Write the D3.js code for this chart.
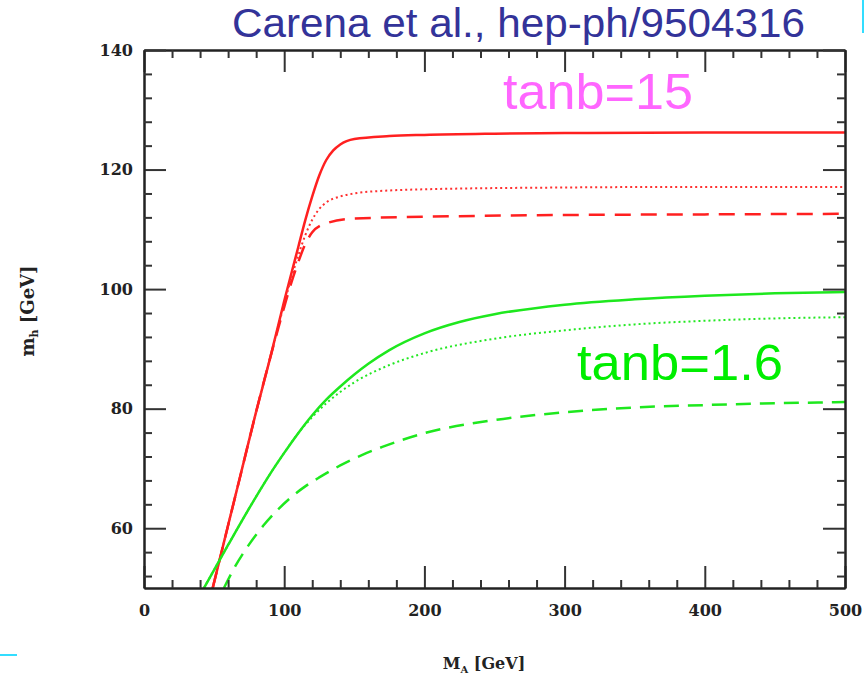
<!DOCTYPE html>
<html>
<head>
<meta charset="utf-8">
<script src="https://cdn.jsdelivr.net/npm/d3@7"></script>
<style>
  body { margin: 0; background: #fff; }
  svg { display: block; }
  .tick text { font-family: "DejaVu Serif", serif; font-weight: bold; font-size: 16px; fill: #222; }
  .tick line { stroke: #333; stroke-width: 2; }
  .domain { stroke: #222; stroke-width: 2; }
</style>
</head>
<body>
<svg width="865" height="679"></svg>
<script>
// M_A [GeV], m_h [GeV]
const red_solid = [[49,50],[60,60.5],[70,70],[80,79.5],[90,88.5],[100,98],[110,107],[115,111.5],[120,115.5],[125,119],[130,121.6],[135,123.2],[140,124.2],[150,125.1],[175,125.6],[200,125.8],[250,126],[300,126.1],[400,126.2],[500,126.2]];
const red_dotted = [[49,50],[60,60.5],[70,70],[80,79.5],[90,88.5],[100,97.5],[105,101.8],[110,105.6],[115,109],[120,111.6],[125,113.4],[130,114.5],[140,115.5],[150,116],[175,116.5],[200,116.7],[300,117],[400,117.1],[500,117.1]];
const red_dashed = [[49,50],[60,60.5],[70,70],[80,79.5],[90,88.5],[100,97],[105,101],[110,104.5],[115,107.5],[120,109.5],[130,111],[150,111.8],[200,112.1],[300,112.4],[400,112.5],[500,112.6]];

const green_solid = [[42.8,50],[60,57.2],[80,65.3],[90,69.1],[100,72.6],[110,75.9],[120,78.9],[130,81.5],[140,83.7],[150,85.7],[160,87.5],[175,89.8],[200,92.6],[225,94.5],[250,95.8],[300,97.4],[350,98.3],[400,98.9],[450,99.3],[500,99.5]];
const green_dotted = [[42.8,50],[60,57.2],[80,65.3],[90,69.1],[100,72.6],[110,75.9],[120,78.6],[130,80.9],[140,82.8],[150,84.4],[175,87.3],[200,89.3],[250,91.7],[300,93.1],[350,94.1],[400,94.7],[450,95.1],[500,95.3]];
const green_dashed = [[57,50],[65,53.6],[75,57.3],[85,60.4],[95,63],[105,65.2],[115,67],[125,68.5],[140,70.5],[155,72.2],[170,73.6],[200,75.9],[250,78.1],[300,79.4],[350,80.2],[400,80.6],[450,80.9],[500,81.1]];

const xMajor = [0, 100, 200, 300, 400, 500];
const xMinor = d3.range(20, 500, 20).filter(v => v % 100 !== 0);
const yMajor = [60, 80, 100, 120, 140];
const yMinor = d3.range(52, 140, 4).filter(v => v % 20 !== 0);

const svg = d3.select('svg');
const pLeft = 144, pRight = 845, pTop = 50, pBottom = 588;

const x = d3.scaleLinear().domain([0, 500]).range([pLeft, pRight]);
const y = d3.scaleLinear().domain([50, 140]).range([pBottom, pTop]);

// clip curves to the frame
svg.append('clipPath').attr('id', 'frame')
  .append('rect')
    .attr('x', pLeft).attr('y', pTop)
    .attr('width', pRight - pLeft).attr('height', pBottom - pTop);

const line = d3.line()
  .x(d => x(d[0]))
  .y(d => y(d[1]))
  .curve(d3.curveMonotoneX);

const curves = [
  {data: red_solid, color: '#ff2020', width: 2.5, dash: null},
  {data: red_dotted, color: '#ff3030', width: 2, dash: '2,3'},
  {data: red_dashed, color: '#ff2020', width: 2.5, dash: '16,10'},
  {data: green_solid, color: '#1ee81e', width: 2.5, dash: null},
  {data: green_dotted, color: '#22e822', width: 2, dash: '2,3'},
  {data: green_dashed, color: '#1ee81e', width: 2.5, dash: '15,9'}
];

const g = svg.append('g').attr('clip-path', 'url(#frame)');
g.selectAll('path').data(curves)
  .enter().append('path')
    .attr('fill', 'none')
    .attr('stroke', d => d.color)
    .attr('stroke-width', d => d.width)
    .attr('stroke-dasharray', d => d.dash)
    .attr('d', d => line(d.data));

// axes, ticks pointing inward
svg.append('g').attr('transform', `translate(0,${pBottom})`)
  .call(d3.axisBottom(x).tickValues(xMajor).tickSize(-22).tickSizeOuter(0).tickPadding(17));
svg.append('g').attr('transform', `translate(0,${pBottom})`)
  .call(d3.axisBottom(x).tickValues(xMinor).tickSize(-8).tickSizeOuter(0).tickFormat(''));
svg.append('g').attr('transform', `translate(0,${pTop})`)
  .call(d3.axisTop(x).tickValues(xMajor).tickSize(-22).tickSizeOuter(0).tickFormat(''));
svg.append('g').attr('transform', `translate(0,${pTop})`)
  .call(d3.axisTop(x).tickValues(xMinor).tickSize(-8).tickSizeOuter(0).tickFormat(''));

svg.append('g').attr('transform', `translate(${pLeft},0)`)
  .call(d3.axisLeft(y).tickValues(yMajor).tickSize(-22).tickSizeOuter(0).tickPadding(11));
svg.append('g').attr('transform', `translate(${pLeft},0)`)
  .call(d3.axisLeft(y).tickValues(yMinor).tickSize(-8).tickSizeOuter(0).tickFormat(''));
svg.append('g').attr('transform', `translate(${pRight},0)`)
  .call(d3.axisRight(y).tickValues(yMajor).tickSize(-22).tickSizeOuter(0).tickFormat(''));
svg.append('g').attr('transform', `translate(${pRight},0)`)
  .call(d3.axisRight(y).tickValues(yMinor).tickSize(-8).tickSizeOuter(0).tickFormat(''));

// axis titles
const xt = svg.append('text')
  .attr('x', 484).attr('y', 669)
  .attr('text-anchor', 'middle')
  .style('font-family', '"DejaVu Serif", serif')
  .style('font-weight', 'bold').style('font-size', '16px').style('fill', '#222');
xt.append('tspan').text('M');
xt.append('tspan').attr('font-size', '10px').attr('dy', 4).text('A');
xt.append('tspan').attr('dy', -4).text(' [GeV]');

const yt = svg.append('text')
  .attr('transform', 'translate(34,311) rotate(-90)')
  .attr('text-anchor', 'middle')
  .style('font-family', '"DejaVu Serif", serif')
  .style('font-weight', 'bold').style('font-size', '18px').style('fill', '#222');
yt.append('tspan').text('m');
yt.append('tspan').attr('font-size', '11px').attr('dy', 4).text('h');
yt.append('tspan').attr('dy', -4).text(' [GeV]');

// slide annotations
svg.append('text')
  .attr('x', 232).attr('y', 37)
  .attr('textLength', 573).attr('lengthAdjust', 'spacingAndGlyphs')
  .style('font-family', '"Liberation Sans", Arial, sans-serif')
  .style('font-size', '41px').style('fill', '#333399')
  .text('Carena et al., hep-ph/9504316');

svg.append('text')
  .attr('x', 503).attr('y', 109)
  .attr('textLength', 190).attr('lengthAdjust', 'spacingAndGlyphs')
  .style('font-family', '"Liberation Sans", Arial, sans-serif')
  .style('font-size', '50px').style('fill', '#ff66ff')
  .text('tanb=15');

svg.append('text')
  .attr('x', 577).attr('y', 380)
  .attr('textLength', 206).attr('lengthAdjust', 'spacingAndGlyphs')
  .style('font-family', '"Liberation Sans", Arial, sans-serif')
  .style('font-size', '50px').style('fill', '#00ee00')
  .text('tanb=1.6');

// stray slide edges
svg.append('line').attr('x1', 863).attr('x2', 863).attr('y1', 0).attr('y2', 33)
  .attr('stroke', '#33ddff').attr('stroke-width', 2);
svg.append('line').attr('x1', 0).attr('x2', 17).attr('y1', 655).attr('y2', 655)
  .attr('stroke', '#33ddff').attr('stroke-width', 2);
</script>
</body>
</html>
